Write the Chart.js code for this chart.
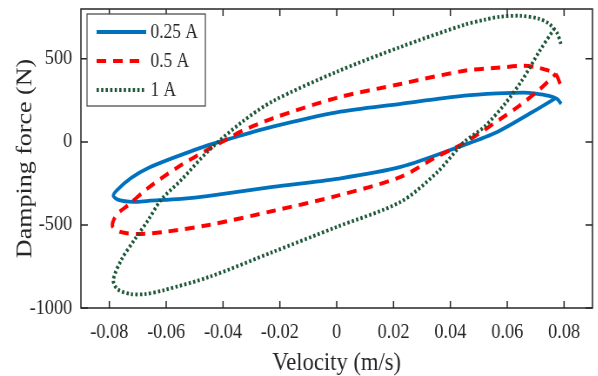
<!DOCTYPE html>
<html>
  <head>
    <title>Damping force vs velocity</title>
    <script src="https://cdn.jsdelivr.net/npm/chart.js"></script>
    <style>
      html, body { margin: 0; padding: 0; background: #fff; overflow: hidden; }
      /* the reference is squeezed horizontally, so draw wide and squeeze */
      #wrap {
        position: absolute; left: 0; top: 0;
        width: 687px; height: 376px;
        transform: scaleX(0.87); transform-origin: 0 0;
      }
    </style>
  </head>
  <body>
    <div id="wrap"><canvas id="myChart"></canvas></div>
    <script>
      // series labels
      const seriesLabels = ["0.25 A", "0.5 A", "1 A"];

      // 0.25 A loop (velocity m/s, force N)
      const vel025 = [0.079, 0.0775, 0.0747, 0.0695, 0.066, 0.0565, 0.0449, 0.0225, 0, -0.0225, -0.0379, -0.0449, -0.0547, -0.0663, -0.0723, -0.0772, -0.0786, -0.0768, -0.0716, -0.0663, -0.0547, -0.0449, -0.0225, 0, 0.0225, 0.0449, 0.0565, 0.0684, 0.0772];
      const force025 = [229, 259, 277, 292, 297, 292, 278, 229, 178, 92, 18, -18, -78, -157, -217, -289, -325, -349, -361, -355, -343, -325, -271, -223, -151, -18, 60, 175, 265];

      // 0.5 A loop
      const vel05 = [0.0786, 0.0772, 0.0744, 0.0705, 0.066, 0.0565, 0.0449, 0.0225, 0, -0.0225, -0.0333, -0.0379, -0.0449, -0.0558, -0.0663, -0.0733, -0.0775, -0.0789, -0.0761, -0.0698, -0.0607, -0.0449, -0.0225, 0, 0.0225, 0.0351, 0.0449, 0.0572, 0.0642, 0.0712, 0.0772];
      const force05 = [349, 405, 430, 448, 458, 446, 428, 349, 265, 142, 66, 22, -42, -151, -277, -380, -440, -506, -542, -554, -542, -500, -416, -325, -211, -90, -6, 133, 217, 313, 410];

      // 1 A loop
      const vel1 = [0.0789, 0.0775, 0.0747, 0.0712, 0.0649, 0.0572, 0.0519, 0.0449, 0.0225, 0, -0.0225, -0.0333, -0.0449, -0.0547, -0.0618, -0.0663, -0.0712, -0.0758, -0.0786, -0.0772, -0.0723, -0.0674, -0.0607, -0.0449, -0.0225, 0, 0.0225, 0.0351, 0.0449, 0.0519, 0.0589, 0.0653, 0.0712, 0.0765];
      const force1 = [590, 657, 711, 741, 759, 753, 735, 705, 572, 422, 245, 120, -50, -229, -349, -470, -590, -711, -831, -886, -916, -916, -892, -813, -663, -512, -361, -187, 0, 90, 223, 373, 542, 681];

      // tick values and labels
      const xTickVals = [-0.08, -0.06, -0.04, -0.02, 0, 0.02, 0.04, 0.06, 0.08];
      const xTickLabels = ["-0.08", "-0.06", "-0.04", "-0.02", "0", "0.02", "0.04", "0.06", "0.08"];
      const yTickVals = [-1000, -500, 0, 500];
      const yTickLabels = ["-1000", "-500", "0", "500"];

      const toPoints = (xs, ys) => xs.map((v, i) => ({ x: v, y: ys[i] }));

      Chart.defaults.font.family = "'Liberation Serif', 'Times New Roman', serif";
      Chart.defaults.color = "#262626";

      const axisColor = "#262626";

      // box round the plot + inward ticks on all four sides
      const boxTicks = {
        id: "boxTicks",
        afterDatasetsDraw(chart) {
          const { ctx, chartArea: a, scales } = chart;
          ctx.save();
          ctx.strokeStyle = axisColor;
          ctx.lineWidth = 1.5;
          ctx.setLineDash([]);
          ctx.strokeRect(a.left, a.top, a.right - a.left, a.bottom - a.top);
          ctx.beginPath();
          scales.x.ticks.forEach((t) => {
            const px = scales.x.getPixelForValue(t.value);
            ctx.moveTo(px, a.bottom); ctx.lineTo(px, a.bottom - 7);
            ctx.moveTo(px, a.top); ctx.lineTo(px, a.top + 7);
          });
          scales.y.ticks.forEach((t) => {
            const py = scales.y.getPixelForValue(t.value);
            ctx.moveTo(a.left, py); ctx.lineTo(a.left + 8, py);
            ctx.moveTo(a.right, py); ctx.lineTo(a.right - 8, py);
          });
          ctx.stroke();
          ctx.restore();
        },
      };

      // legend inside the plot, top left
      const boxLegend = {
        id: "boxLegend",
        afterDatasetsDraw(chart) {
          const { ctx } = chart;
          const bx = 100, by = 14, bw = 136, bh = 92;
          ctx.save();
          ctx.fillStyle = "#fff";
          ctx.fillRect(bx, by, bw, bh);
          ctx.strokeStyle = "#404040";
          ctx.lineWidth = 1.2;
          ctx.strokeRect(bx, by, bw, bh);
          ctx.font = "20px 'Liberation Serif', serif";
          ctx.textBaseline = "middle";
          chart.data.datasets.forEach((ds, i) => {
            const ry = 32 + i * 29;
            ctx.strokeStyle = ds.borderColor;
            ctx.lineWidth = ds.borderWidth;
            ctx.setLineDash(ds.borderDash || []);
            ctx.beginPath();
            ctx.moveTo(111, ry);
            ctx.lineTo(168, ry);
            ctx.stroke();
            ctx.fillStyle = "#262626";
            ctx.fillText(ds.label, 173, ry + 1);
          });
          ctx.restore();
        },
      };

      const ctx = document.getElementById("myChart").getContext("2d");
      const chart = new Chart(ctx, {
        type: "scatter",
        data: {
          datasets: [
            {
              label: seriesLabels[0],
              data: toPoints(vel025, force025),
              borderColor: "#0072BD",
              borderWidth: 3.8,
              order: 3,
            },
            {
              label: seriesLabels[1],
              data: toPoints(vel05, force05),
              borderColor: "#FF0000",
              borderWidth: 4,
              borderDash: [11, 8],
              order: 2,
            },
            {
              label: seriesLabels[2],
              data: toPoints(vel1, force1),
              borderColor: "#1d5637",
              borderWidth: 3.8,
              borderDash: [2.6, 2.6],
              order: 1,
            },
          ],
        },
        options: {
          responsive: true,
          maintainAspectRatio: false,
          devicePixelRatio: 1,
          animation: false,
          showLine: true,
          elements: {
            point: { radius: 0, hoverRadius: 0 },
            line: { tension: 0.3, borderCapStyle: "butt", fill: false },
          },
          layout: { padding: { left: 0, right: 6, top: 9, bottom: 0 } },
          plugins: {
            legend: { display: false },
            tooltip: { enabled: false },
          },
          scales: {
            x: {
              type: "linear",
              min: -0.09,
              max: 0.09,
              afterBuildTicks: (s) => { s.ticks = xTickVals.map((v) => ({ value: v })); },
              afterFit: (s) => { s.height = 68; s.paddingLeft = 0; s.paddingRight = 0; },
              grid: { display: false, drawTicks: false },
              border: { display: false },
              ticks: {
                padding: 12,
                maxRotation: 0,
                autoSkip: false,
                font: { size: 21 },
                color: axisColor,
                callback: (v) => xTickLabels[xTickVals.findIndex((t) => Math.abs(t - v) < 1e-9)],
              },
              title: {
                display: true,
                text: "Velocity (m/s)",
                font: { size: 26, lineHeight: 1 },
                color: axisColor,
                padding: { top: 0, bottom: 0 },
              },
            },
            y: {
              type: "linear",
              min: -1000,
              max: 800,
              afterBuildTicks: (s) => { s.ticks = yTickVals.map((v) => ({ value: v })); },
              afterFit: (s) => { s.width = 93; s.paddingTop = 0; s.paddingBottom = 0; },
              grid: { display: false, drawTicks: false },
              border: { display: false },
              ticks: {
                padding: 10,
                autoSkip: false,
                font: { size: 21 },
                color: axisColor,
                callback: (v) => yTickLabels[yTickVals.indexOf(v)],
              },
              title: {
                display: true,
                text: "Damping force (N)",
                font: { size: 26, lineHeight: 1 },
                color: axisColor,
                padding: { top: 16, bottom: 0 },
              },
            },
          },
        },
        plugins: [boxTicks, boxLegend],
      });
    </script>
  </body>
</html>
